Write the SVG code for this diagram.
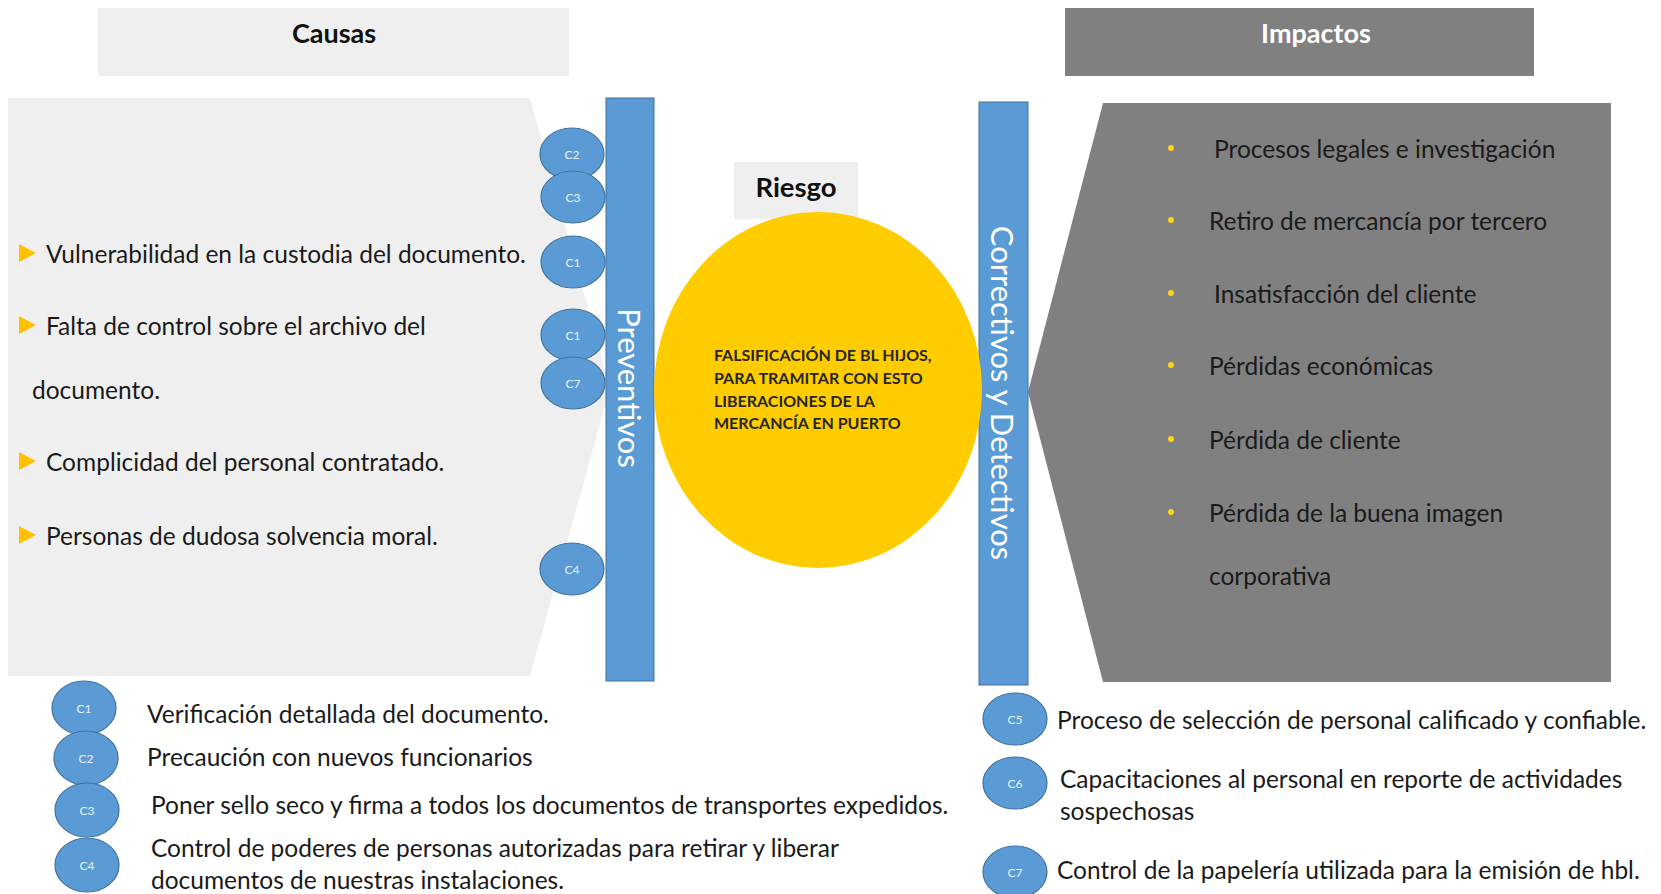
<svg xmlns="http://www.w3.org/2000/svg" width="1661" height="894" viewBox="0 0 1661 894">
<style>
  text { font-family: Lato, "Open Sans", "Liberation Sans", sans-serif; dominant-baseline: central; }
  .hdr { font-size: 27px; font-weight: bold; text-anchor: middle; }
  .item { font-size: 24.5px; fill: #1a1a1a; }
  .leg { font-size: 24.5px; fill: #1a1a1a; }
  .cbub { fill: #5b9bd5; stroke: #41719c; stroke-width: 1.2; }
  .clbl { font-size: 12px; fill: #e8f0fa; text-anchor: middle; }
  .bar { fill: #5b9bd5; stroke: #41719c; stroke-width: 1; }
  .vtxt { font-size: 31px; fill: #ffffff; text-anchor: middle; }
  .tri { fill: #ffc000; }
  .dot { fill: #ffd21a; }
  .risk { font-size: 16px; font-weight: bold; fill: #262626; }
</style>
<rect width="1661" height="894" fill="#ffffff"/>

<g id="causas-header">
  <rect x="98" y="8" width="471" height="68" fill="#efefef"/>
  <text class="hdr" x="334" y="32" fill="#111">Causas</text>
</g>
<g id="impactos-header">
  <rect x="1065" y="8" width="469" height="68" fill="#808080"/>
  <text class="hdr" x="1316" y="32" fill="#ffffff">Impactos</text>
</g>

<g id="causas-panel">
  <polygon points="8,98 530,98 610,388 530,676 8,676" fill="#efefef"/>
  <polygon class="tri" points="19,244 36,253 19,262"/>
  <text class="item" x="46" y="253">Vulnerabilidad en la custodia del documento.</text>
  <polygon class="tri" points="19,316 36,325 19,334"/>
  <text class="item" x="46" y="325">Falta de control sobre el archivo del</text>
  <text class="item" x="32" y="389">documento.</text>
  <polygon class="tri" points="19,452 36,461 19,470"/>
  <text class="item" x="46" y="461">Complicidad del personal contratado.</text>
  <polygon class="tri" points="19,526 36,535 19,544"/>
  <text class="item" x="46" y="535">Personas de dudosa solvencia moral.</text>
</g>

<g id="impactos-panel">
  <polygon points="1103,103 1611,103 1611,682 1103,682 1028,392" fill="#808080"/>
  <circle class="dot" cx="1171" cy="148" r="3"/>
  <text class="item" x="1214" y="148">Procesos legales e investigación</text>
  <circle class="dot" cx="1171" cy="220" r="3"/>
  <text class="item" x="1209" y="220">Retiro de mercancía por tercero</text>
  <circle class="dot" cx="1171" cy="293" r="3"/>
  <text class="item" x="1214" y="293">Insatisfacción del cliente</text>
  <circle class="dot" cx="1171" cy="365" r="3"/>
  <text class="item" x="1209" y="365">Pérdidas económicas</text>
  <circle class="dot" cx="1171" cy="439" r="3"/>
  <text class="item" x="1209" y="439">Pérdida de cliente</text>
  <circle class="dot" cx="1171" cy="512" r="3"/>
  <text class="item" x="1209" y="512">Pérdida de la buena imagen</text>
  <text class="item" x="1209" y="575">corporativa</text>
</g>

<g id="preventivos">
  <rect class="bar" x="606" y="98" width="48" height="583"/>
  <text class="vtxt" transform="translate(630,388) rotate(90)">Preventivos</text>
</g>

<g id="correctivos">
  <rect class="bar" x="979" y="102" width="49" height="583"/>
  <text class="vtxt" transform="translate(1003,393) rotate(90)">Correctivos y Detectivos</text>
</g>

<g id="riesgo-label">
  <rect x="734" y="162" width="124" height="57" fill="#efefef"/>
  <text x="796" y="186" style="font-size:27.5px;font-weight:bold;text-anchor:middle" fill="#111">Riesgo</text>
</g>

<g id="riesgo">
  <ellipse cx="818" cy="390" rx="164" ry="178" fill="#ffcc00"/>
  <text class="risk" x="714" y="354">FALSIFICACIÓN DE BL HIJOS,</text>
  <text class="risk" x="714" y="377">PARA TRAMITAR CON ESTO</text>
  <text class="risk" x="714" y="400">LIBERACIONES DE LA</text>
  <text class="risk" x="714" y="422">MERCANCÍA EN PUERTO</text>
</g>

<g id="controles-barra">
  <ellipse class="cbub" cx="572" cy="154" rx="32" ry="26"/>
  <text class="clbl" x="572" y="154">C2</text>
  <ellipse class="cbub" cx="573" cy="197" rx="32" ry="26"/>
  <text class="clbl" x="573" y="197">C3</text>
  <ellipse class="cbub" cx="573" cy="262" rx="32" ry="26"/>
  <text class="clbl" x="573" y="262">C1</text>
  <ellipse class="cbub" cx="573" cy="335" rx="32" ry="26"/>
  <text class="clbl" x="573" y="335">C1</text>
  <ellipse class="cbub" cx="573" cy="383" rx="32" ry="26"/>
  <text class="clbl" x="573" y="383">C7</text>
  <ellipse class="cbub" cx="572" cy="569" rx="32" ry="26"/>
  <text class="clbl" x="572" y="569">C4</text>
</g>

<g id="leyenda-preventivos">
  <ellipse class="cbub" cx="84" cy="708" rx="32" ry="27"/>
  <text class="clbl" x="84" y="708">C1</text>
  <text class="leg" x="147" y="713">Verificación detallada del documento.</text>
  <ellipse class="cbub" cx="86" cy="758" rx="32" ry="27"/>
  <text class="clbl" x="86" y="758">C2</text>
  <text class="leg" x="147" y="756">Precaución con nuevos funcionarios</text>
  <ellipse class="cbub" cx="87" cy="810" rx="32" ry="27"/>
  <text class="clbl" x="87" y="810">C3</text>
  <text class="leg" x="151" y="804">Poner sello seco y firma a todos los documentos de transportes expedidos.</text>
  <ellipse class="cbub" cx="87" cy="865" rx="32" ry="27"/>
  <text class="clbl" x="87" y="865">C4</text>
  <text class="leg" x="151" y="847">Control de poderes de personas autorizadas para retirar y liberar</text>
  <text class="leg" x="151" y="879">documentos de nuestras instalaciones.</text>
</g>

<g id="leyenda-correctivos">
  <ellipse class="cbub" cx="1015" cy="719" rx="32" ry="26"/>
  <text class="clbl" x="1015" y="719">C5</text>
  <text class="leg" x="1057" y="719">Proceso de selección de personal calificado y confiable.</text>
  <ellipse class="cbub" cx="1015" cy="783" rx="32" ry="26"/>
  <text class="clbl" x="1015" y="783">C6</text>
  <text class="leg" x="1060" y="778">Capacitaciones al personal en reporte de actividades</text>
  <text class="leg" x="1060" y="810">sospechosas</text>
  <ellipse class="cbub" cx="1015" cy="872" rx="32" ry="26"/>
  <text class="clbl" x="1015" y="872">C7</text>
  <text class="leg" x="1057" y="869">Control de la papelería utilizada para la emisión de hbl.</text>
</g>

<g id="connectors"></g>
</svg>
